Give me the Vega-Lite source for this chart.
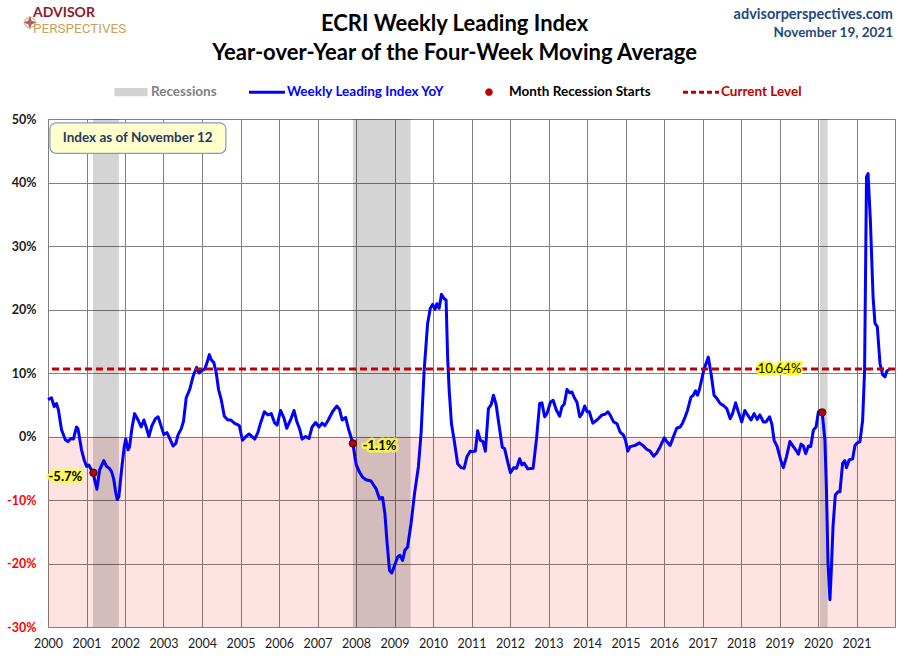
{
  "$schema": "https://vega.github.io/schema/vega-lite/v6.json",
  "autosize": "none",
  "width": 847,
  "height": 508,
  "padding": {"left": 48, "top": 119, "right": 15, "bottom": 34},
  "background": "white",
  "config": {
    "view": {"stroke": "#808080", "strokeWidth": 1},
    "axis": {"grid": true, "gridColor": "#808080", "gridOpacity": 1, "gridWidth": 1, "domain": false, "ticks": false, "labelOverlap": false, "labelFlush": false, "labelFont": "Lato", "labelFontSize": 12.5, "title": null}
  },
  "encoding": {
    "x": {
      "type": "quantitative",
      "scale": {"domain": [2000, 2022], "nice": false, "zero": false},
      "axis": {"grid": true, "values": [2000, 2001, 2002, 2003, 2004, 2005, 2006, 2007, 2008, 2009, 2010, 2011, 2012, 2013, 2014, 2015, 2016, 2017, 2018, 2019, 2020, 2021], "format": "d", "labelOverlap": false, "labelFlush": false, "labelPadding": 10, "labelColor": "#1a1a1a"}
    },
    "y": {
      "type": "quantitative",
      "scale": {"domain": [-30, 50], "nice": false, "zero": false},
      "axis": {"grid": true, "values": [-30, -20, -10, 0, 10, 20, 30, 40, 50], "labelExpr": "datum.value + '%'", "labelOverlap": false, "labelFlush": false, "labelPadding": 12, "labelFontWeight": "bold", "labelColor": {"condition": {"test": "datum.value < 0", "value": "#ff0000"}, "value": "#1a1a1a"}}
    }
  },
  "layer": [
    {
      "data": {"values": [{}]},
      "mark": {"type": "rect", "color": "#ff0000", "opacity": 0.11},
      "encoding": {"x": null, "y": {"datum": -30}, "y2": {"datum": 0}}
    },
    {
      "data": {"values": [
        {"start": 2001.17, "end": 2001.84},
        {"start": 2007.92, "end": 2009.42},
        {"start": 2020.05, "end": 2020.25}
      ]},
      "mark": {"type": "rect", "color": "#000000", "opacity": 0.17},
      "encoding": {
        "x": {"field": "start"},
        "x2": {"field": "end"},
        "y": null
      }
    },
    {
      "data": {"values": [{}]},
      "mark": {"type": "rect", "fill": "#FFFFCC", "stroke": "#7F9DC9", "strokeWidth": 1.2, "cornerRadius": 6},
      "encoding": {"x": {"datum": 2000.05}, "x2": {"datum": 2004.62}, "y": {"datum": 49.4}, "y2": {"datum": 44.6}}
    },
    {
      "data": {"values": [{}]},
      "mark": {"type": "text", "text": "Index as of November 12", "font": "Lato", "fontSize": 13.5, "fontWeight": "bold", "color": "#1F3864"},
      "encoding": {"x": {"datum": 2002.33}, "y": {"datum": 47.0}}
    },
    {
      "data": {"values": [
        {"t": 2000.00, "v": 5.8}, {"t": 2000.09, "v": 6.1}, {"t": 2000.16, "v": 4.7}, {"t": 2000.22, "v": 5.2},
        {"t": 2000.27, "v": 4.2}, {"t": 2000.35, "v": 1.1}, {"t": 2000.45, "v": -0.5}, {"t": 2000.52, "v": -0.8},
        {"t": 2000.60, "v": -0.3}, {"t": 2000.66, "v": -0.4}, {"t": 2000.74, "v": 1.5}, {"t": 2000.78, "v": 1.2},
        {"t": 2000.87, "v": -2.1}, {"t": 2000.94, "v": -3.7}, {"t": 2001.00, "v": -4.7}, {"t": 2001.06, "v": -4.5},
        {"t": 2001.13, "v": -5.3}, {"t": 2001.17, "v": -5.7}, {"t": 2001.21, "v": -6.8}, {"t": 2001.27, "v": -8.3},
        {"t": 2001.34, "v": -5.3}, {"t": 2001.39, "v": -4.6}, {"t": 2001.45, "v": -3.8}, {"t": 2001.52, "v": -4.7},
        {"t": 2001.59, "v": -5.0}, {"t": 2001.65, "v": -5.5}, {"t": 2001.71, "v": -6.8}, {"t": 2001.76, "v": -8.9},
        {"t": 2001.80, "v": -9.9}, {"t": 2001.84, "v": -9.5}, {"t": 2001.91, "v": -5.3}, {"t": 2001.98, "v": -1.6},
        {"t": 2002.02, "v": -0.4}, {"t": 2002.08, "v": -2.1}, {"t": 2002.12, "v": -1.6}, {"t": 2002.18, "v": 1.3},
        {"t": 2002.25, "v": 3.6}, {"t": 2002.34, "v": 2.6}, {"t": 2002.42, "v": 1.5}, {"t": 2002.49, "v": 2.6},
        {"t": 2002.55, "v": 1.5}, {"t": 2002.62, "v": 0.0}, {"t": 2002.70, "v": 1.7}, {"t": 2002.79, "v": 2.8},
        {"t": 2002.86, "v": 3.1}, {"t": 2002.94, "v": 1.6}, {"t": 2003.01, "v": 0.3}, {"t": 2003.09, "v": 0.6},
        {"t": 2003.16, "v": -0.3}, {"t": 2003.25, "v": -1.5}, {"t": 2003.32, "v": -1.1}, {"t": 2003.38, "v": 0.3},
        {"t": 2003.46, "v": 1.2}, {"t": 2003.52, "v": 2.4}, {"t": 2003.59, "v": 6.1}, {"t": 2003.68, "v": 7.4},
        {"t": 2003.77, "v": 9.5}, {"t": 2003.86, "v": 10.9}, {"t": 2003.92, "v": 10.0}, {"t": 2004.00, "v": 10.4},
        {"t": 2004.07, "v": 10.6}, {"t": 2004.13, "v": 11.6}, {"t": 2004.19, "v": 12.9}, {"t": 2004.24, "v": 12.1},
        {"t": 2004.31, "v": 11.6}, {"t": 2004.37, "v": 10.0}, {"t": 2004.43, "v": 7.4}, {"t": 2004.50, "v": 5.8},
        {"t": 2004.58, "v": 3.2}, {"t": 2004.67, "v": 2.6}, {"t": 2004.75, "v": 2.6}, {"t": 2004.84, "v": 2.1},
        {"t": 2004.97, "v": 1.7}, {"t": 2005.05, "v": -0.6}, {"t": 2005.16, "v": 0.1}, {"t": 2005.22, "v": 0.4},
        {"t": 2005.37, "v": -0.4}, {"t": 2005.45, "v": 0.6}, {"t": 2005.52, "v": 2.1}, {"t": 2005.62, "v": 3.9},
        {"t": 2005.71, "v": 3.4}, {"t": 2005.80, "v": 3.6}, {"t": 2005.89, "v": 2.1}, {"t": 2005.95, "v": 1.8},
        {"t": 2006.04, "v": 4.1}, {"t": 2006.13, "v": 2.9}, {"t": 2006.20, "v": 1.3}, {"t": 2006.30, "v": 2.6},
        {"t": 2006.39, "v": 4.1}, {"t": 2006.46, "v": 2.4}, {"t": 2006.54, "v": 1.1}, {"t": 2006.60, "v": -0.4},
        {"t": 2006.69, "v": 0.0}, {"t": 2006.78, "v": -0.3}, {"t": 2006.86, "v": 1.5}, {"t": 2006.95, "v": 2.2},
        {"t": 2007.04, "v": 1.5}, {"t": 2007.12, "v": 2.1}, {"t": 2007.19, "v": 1.7}, {"t": 2007.28, "v": 2.6},
        {"t": 2007.39, "v": 3.9}, {"t": 2007.50, "v": 4.8}, {"t": 2007.57, "v": 4.3}, {"t": 2007.64, "v": 2.6},
        {"t": 2007.73, "v": 3.0}, {"t": 2007.80, "v": 1.3}, {"t": 2007.92, "v": -1.1}, {"t": 2007.97, "v": -3.2},
        {"t": 2008.01, "v": -4.5}, {"t": 2008.09, "v": -5.6}, {"t": 2008.17, "v": -6.4}, {"t": 2008.26, "v": -6.8},
        {"t": 2008.39, "v": -7.0}, {"t": 2008.52, "v": -8.2}, {"t": 2008.61, "v": -9.8}, {"t": 2008.69, "v": -9.6},
        {"t": 2008.75, "v": -12.1}, {"t": 2008.81, "v": -16.9}, {"t": 2008.87, "v": -21.1}, {"t": 2008.93, "v": -21.5},
        {"t": 2009.00, "v": -20.3}, {"t": 2009.08, "v": -19.0}, {"t": 2009.14, "v": -18.7}, {"t": 2009.21, "v": -19.5},
        {"t": 2009.27, "v": -17.9}, {"t": 2009.34, "v": -17.4}, {"t": 2009.43, "v": -13.7}, {"t": 2009.52, "v": -9.0},
        {"t": 2009.62, "v": -4.8}, {"t": 2009.69, "v": 0.5}, {"t": 2009.77, "v": 10.4}, {"t": 2009.86, "v": 17.8},
        {"t": 2009.93, "v": 20.2}, {"t": 2009.99, "v": 20.8}, {"t": 2010.05, "v": 20.0}, {"t": 2010.10, "v": 20.9},
        {"t": 2010.16, "v": 20.2}, {"t": 2010.22, "v": 22.4}, {"t": 2010.29, "v": 21.7}, {"t": 2010.34, "v": 21.5},
        {"t": 2010.38, "v": 12.5}, {"t": 2010.42, "v": 7.3}, {"t": 2010.48, "v": 2.0}, {"t": 2010.55, "v": -0.6},
        {"t": 2010.64, "v": -4.3}, {"t": 2010.73, "v": -4.9}, {"t": 2010.81, "v": -5.0}, {"t": 2010.88, "v": -3.2},
        {"t": 2010.97, "v": -2.3}, {"t": 2011.03, "v": -2.4}, {"t": 2011.10, "v": -2.3}, {"t": 2011.16, "v": 0.9},
        {"t": 2011.23, "v": -0.6}, {"t": 2011.30, "v": -0.8}, {"t": 2011.36, "v": -2.3}, {"t": 2011.44, "v": 4.4},
        {"t": 2011.51, "v": 5.0}, {"t": 2011.57, "v": 6.5}, {"t": 2011.64, "v": 5.0}, {"t": 2011.71, "v": 2.0},
        {"t": 2011.80, "v": -1.7}, {"t": 2011.86, "v": -1.9}, {"t": 2011.94, "v": -4.0}, {"t": 2012.01, "v": -5.7},
        {"t": 2012.10, "v": -4.9}, {"t": 2012.17, "v": -5.0}, {"t": 2012.25, "v": -3.5}, {"t": 2012.31, "v": -4.5},
        {"t": 2012.37, "v": -4.2}, {"t": 2012.46, "v": -5.1}, {"t": 2012.60, "v": -5.0}, {"t": 2012.69, "v": -0.3},
        {"t": 2012.77, "v": 5.2}, {"t": 2012.83, "v": 5.3}, {"t": 2012.90, "v": 3.1}, {"t": 2012.96, "v": 3.6},
        {"t": 2013.05, "v": 5.4}, {"t": 2013.12, "v": 5.7}, {"t": 2013.20, "v": 4.2}, {"t": 2013.29, "v": 3.2},
        {"t": 2013.35, "v": 4.7}, {"t": 2013.41, "v": 5.1}, {"t": 2013.48, "v": 7.4}, {"t": 2013.55, "v": 6.9},
        {"t": 2013.61, "v": 7.0}, {"t": 2013.67, "v": 6.1}, {"t": 2013.74, "v": 5.4}, {"t": 2013.81, "v": 3.1},
        {"t": 2013.87, "v": 3.6}, {"t": 2013.94, "v": 4.8}, {"t": 2014.00, "v": 3.9}, {"t": 2014.06, "v": 3.9},
        {"t": 2014.15, "v": 2.1}, {"t": 2014.26, "v": 2.6}, {"t": 2014.39, "v": 3.4}, {"t": 2014.47, "v": 3.5},
        {"t": 2014.54, "v": 3.9}, {"t": 2014.60, "v": 3.4}, {"t": 2014.69, "v": 2.3}, {"t": 2014.78, "v": 2.0},
        {"t": 2014.86, "v": 0.7}, {"t": 2014.95, "v": 0.2}, {"t": 2015.00, "v": -0.6}, {"t": 2015.06, "v": -2.3},
        {"t": 2015.12, "v": -1.6}, {"t": 2015.25, "v": -1.4}, {"t": 2015.36, "v": -1.0}, {"t": 2015.45, "v": -1.4},
        {"t": 2015.55, "v": -2.0}, {"t": 2015.64, "v": -2.3}, {"t": 2015.73, "v": -3.1}, {"t": 2015.81, "v": -2.6},
        {"t": 2015.90, "v": -1.6}, {"t": 2016.01, "v": -0.2}, {"t": 2016.07, "v": -0.8}, {"t": 2016.16, "v": -1.4},
        {"t": 2016.24, "v": -0.1}, {"t": 2016.33, "v": 1.3}, {"t": 2016.42, "v": 1.5}, {"t": 2016.48, "v": 2.1},
        {"t": 2016.55, "v": 3.1}, {"t": 2016.61, "v": 4.1}, {"t": 2016.70, "v": 6.2}, {"t": 2016.76, "v": 6.5},
        {"t": 2016.82, "v": 7.2}, {"t": 2016.87, "v": 6.5}, {"t": 2016.92, "v": 7.4}, {"t": 2017.04, "v": 10.6},
        {"t": 2017.15, "v": 12.5}, {"t": 2017.22, "v": 10.0}, {"t": 2017.30, "v": 6.5}, {"t": 2017.37, "v": 6.0},
        {"t": 2017.46, "v": 5.2}, {"t": 2017.54, "v": 4.9}, {"t": 2017.63, "v": 4.4}, {"t": 2017.72, "v": 2.8},
        {"t": 2017.78, "v": 3.6}, {"t": 2017.86, "v": 5.3}, {"t": 2017.93, "v": 3.9}, {"t": 2018.02, "v": 2.3},
        {"t": 2018.10, "v": 4.1}, {"t": 2018.17, "v": 3.4}, {"t": 2018.26, "v": 2.6}, {"t": 2018.34, "v": 3.6},
        {"t": 2018.42, "v": 2.7}, {"t": 2018.49, "v": 3.4}, {"t": 2018.58, "v": 2.3}, {"t": 2018.65, "v": 2.3},
        {"t": 2018.74, "v": 3.1}, {"t": 2018.80, "v": 2.0}, {"t": 2018.86, "v": -0.6}, {"t": 2018.94, "v": -1.6},
        {"t": 2019.03, "v": -3.7}, {"t": 2019.10, "v": -4.9}, {"t": 2019.18, "v": -3.2}, {"t": 2019.27, "v": -0.8},
        {"t": 2019.36, "v": -1.6}, {"t": 2019.42, "v": -2.1}, {"t": 2019.49, "v": -2.8}, {"t": 2019.56, "v": -1.2},
        {"t": 2019.62, "v": -1.5}, {"t": 2019.68, "v": -2.7}, {"t": 2019.75, "v": -1.5}, {"t": 2019.81, "v": -1.6},
        {"t": 2019.88, "v": 1.0}, {"t": 2019.95, "v": 1.5}, {"t": 2020.01, "v": 3.9}, {"t": 2020.07, "v": 4.1},
        {"t": 2020.11, "v": 3.8}, {"t": 2020.18, "v": -0.6}, {"t": 2020.22, "v": -8.4}, {"t": 2020.26, "v": -19.9},
        {"t": 2020.31, "v": -25.7}, {"t": 2020.35, "v": -20.5}, {"t": 2020.39, "v": -14.2}, {"t": 2020.45, "v": -9.2},
        {"t": 2020.52, "v": -8.7}, {"t": 2020.57, "v": -8.7}, {"t": 2020.64, "v": -4.2}, {"t": 2020.70, "v": -3.8},
        {"t": 2020.74, "v": -4.9}, {"t": 2020.81, "v": -3.7}, {"t": 2020.90, "v": -3.5}, {"t": 2020.96, "v": -1.4},
        {"t": 2021.02, "v": -1.0}, {"t": 2021.09, "v": -0.8}, {"t": 2021.16, "v": 2.6}, {"t": 2021.21, "v": 10.4},
        {"t": 2021.26, "v": 40.9}, {"t": 2021.30, "v": 41.4}, {"t": 2021.36, "v": 34.1}, {"t": 2021.43, "v": 22.0},
        {"t": 2021.48, "v": 17.8}, {"t": 2021.54, "v": 17.3}, {"t": 2021.61, "v": 11.5}, {"t": 2021.68, "v": 9.7},
        {"t": 2021.74, "v": 9.4}, {"t": 2021.79, "v": 10.3}, {"t": 2021.86, "v": 10.64}
      ]},
      "mark": {"type": "line", "strokeWidth": 3, "strokeJoin": "round"},
      "encoding": {
        "x": {"field": "t"},
        "y": {"field": "v"},
        "color": {
          "datum": "Weekly Leading Index YoY",
          "type": "nominal",
          "scale": {
            "domain": ["Recessions", "Weekly Leading Index YoY", "Month Recession Starts", "Current Level"],
            "range": ["#D3D3D3", "#0000FF", "#C00000", "#C00000"]
          },
          "legend": {
            "title": null,
            "orient": "none",
            "direction": "horizontal",
            "columns": 4,
            "legendX": 65,
            "legendY": -34,
            "padding": 0,
            "labelFont": "Lato",
            "labelFontSize": 13.5,
            "labelFontWeight": "bold",
            "labelOffset": 3,
            "columnPadding": 26,
            "encode": {
              "symbols": {"update": {
                "x": {"value": 18},
                "shape": {"signal": "datum.value === 'Recessions' ? 'M-1,-0.25H1V0.25H-1Z' : datum.value === 'Month Recession Starts' ? 'circle' : 'stroke'"},
                "size": {"signal": "datum.value === 'Month Recession Starts' ? 45 : datum.value === 'Recessions' ? 1100 : 1296"},
                "fill": {"signal": "datum.value === 'Recessions' ? '#D3D3D3' : datum.value === 'Month Recession Starts' ? '#C00000' : 'transparent'"},
                "stroke": {"signal": "datum.value === 'Recessions' ? '#D3D3D3' : datum.value === 'Month Recession Starts' ? '#000000' : datum.value === 'Current Level' ? '#C00000' : '#0000FF'"},
                "strokeWidth": {"signal": "datum.value === 'Month Recession Starts' ? 0.8 : datum.value === 'Recessions' ? 0 : 3"},
                "strokeDash": {"signal": "datum.value === 'Current Level' ? [5, 3] : [1, 0]"},
                "opacity": {"value": 1}
              }},
              "labels": {"update": {
                "x": {"value": 38},
                "fill": {"signal": "datum.value === 'Recessions' ? '#808080' : datum.value === 'Weekly Leading Index YoY' ? '#0000FF' : datum.value === 'Current Level' ? '#C00000' : '#000000'"}
              }}
            }
          }
        }
      }
    },
    {
      "data": {"values": [{}]},
      "mark": {"type": "rule", "strokeWidth": 3, "strokeDash": [7, 4]},
      "encoding": {"x": null, "y": {"datum": 10.64}, "color": {"datum": "Current Level", "type": "nominal"}}
    },
    {
      "data": {"values": [
        {"t": 2001.18, "v": -5.7},
        {"t": 2007.92, "v": -1.1},
        {"t": 2020.11, "v": 3.8}
      ]},
      "mark": {"type": "point", "filled": true, "opacity": 1, "size": 55, "stroke": "#000000", "strokeWidth": 0.8},
      "encoding": {
        "x": {"field": "t"},
        "y": {"field": "v"},
        "color": {"datum": "Month Recession Starts", "type": "nominal"}
      }
    },
    {
      "data": {"values": [{}]},
      "mark": {"type": "text", "text": "-5.7%", "font": "Lato", "fontSize": 13, "fontWeight": "bold", "stroke": "#FFFF33", "strokeWidth": 5, "strokeOpacity": 0.8, "strokeJoin": "round", "color": "#FFFF33"},
      "encoding": {"x": {"datum": 2000.45}, "y": {"datum": -6.4}}
    },
    {
      "data": {"values": [{}]},
      "mark": {"type": "text", "text": "-5.7%", "font": "Lato", "fontSize": 13, "fontWeight": "bold", "color": "#000000"},
      "encoding": {"x": {"datum": 2000.45}, "y": {"datum": -6.4}}
    },
    {
      "data": {"values": [{}]},
      "mark": {"type": "text", "text": "-1.1%", "font": "Lato", "fontSize": 13, "fontWeight": "bold", "stroke": "#FFFF33", "strokeWidth": 5, "strokeOpacity": 0.8, "strokeJoin": "round", "color": "#FFFF33"},
      "encoding": {"x": {"datum": 2008.61}, "y": {"datum": -1.5}}
    },
    {
      "data": {"values": [{}]},
      "mark": {"type": "text", "text": "-1.1%", "font": "Lato", "fontSize": 13, "fontWeight": "bold", "color": "#000000"},
      "encoding": {"x": {"datum": 2008.61}, "y": {"datum": -1.5}}
    },
    {
      "data": {"values": [{}]},
      "mark": {"type": "text", "text": "10.64%", "font": "Lato", "fontSize": 13, "stroke": "#FFFF00", "strokeWidth": 4, "color": "#FFFF00"},
      "encoding": {"x": {"datum": 2019.0}, "y": {"datum": 10.64}}
    },
    {
      "data": {"values": [{}]},
      "mark": {"type": "text", "text": "10.64%", "font": "Lato", "fontSize": 13, "color": "#000000"},
      "encoding": {"x": {"datum": 2019.0}, "y": {"datum": 10.64}}
    },
    {
      "data": {"values": [{}]},
      "mark": {"type": "text", "text": "ECRI Weekly Leading Index", "font": "Lato", "fontSize": 22, "fontWeight": "bold", "color": "#000000"},
      "encoding": {"x": {"datum": 2010.56}, "y": {"datum": 64.96}}
    },
    {
      "data": {"values": [{}]},
      "mark": {"type": "text", "text": "Year-over-Year of the Four-Week Moving Average", "font": "Lato", "fontSize": 22, "fontWeight": "bold", "color": "#000000"},
      "encoding": {"x": {"datum": 2010.56}, "y": {"datum": 60.39}}
    },
    {
      "data": {"values": [{}]},
      "mark": {"type": "text", "text": "advisorperspectives.com", "align": "right", "dx": -2, "font": "Lato", "fontSize": 14.5, "fontWeight": "bold", "color": "#1F497D"},
      "encoding": {"x": {"datum": 2022}, "y": {"datum": 66.4}}
    },
    {
      "data": {"values": [{}]},
      "mark": {"type": "text", "text": "November 19, 2021", "align": "right", "dx": -2, "font": "Lato", "fontSize": 13.5, "fontWeight": "bold", "color": "#1F497D"},
      "encoding": {"x": {"datum": 2022}, "y": {"datum": 63.5}}
    },
    {
      "data": {"values": [{}]},
      "mark": {"type": "point", "shape": "M0,-1L0.25,-0.25L1,0L0.25,0.25L0,1L-0.25,0.25L-1,0L-0.25,-0.25Z", "filled": true, "size": 200, "color": "#8B1A2B"},
      "encoding": {"x": {"datum": 1999.53}, "y": {"datum": 65.2}}
    },
    {
      "data": {"values": [{}]},
      "mark": {"type": "point", "shape": "circle", "filled": false, "size": 110, "strokeWidth": 1.5, "color": "#C8A060"},
      "encoding": {"x": {"datum": 1999.53}, "y": {"datum": 65.2}}
    },
    {
      "data": {"values": [{}]},
      "mark": {"type": "text", "text": "ADVISOR", "align": "left", "font": "Lato", "fontSize": 14, "fontWeight": "bold", "color": "#8B1A2B"},
      "encoding": {"x": {"datum": 1999.61}, "y": {"datum": 66.7}}
    },
    {
      "data": {"values": [{}]},
      "mark": {"type": "text", "text": "PERSPECTIVES", "align": "left", "font": "Roboto", "fontSize": 13.5, "fontWeight": "normal", "color": "#C8A060"},
      "encoding": {"x": {"datum": 1999.61}, "y": {"datum": 64.2}}
    }
  ]
}
